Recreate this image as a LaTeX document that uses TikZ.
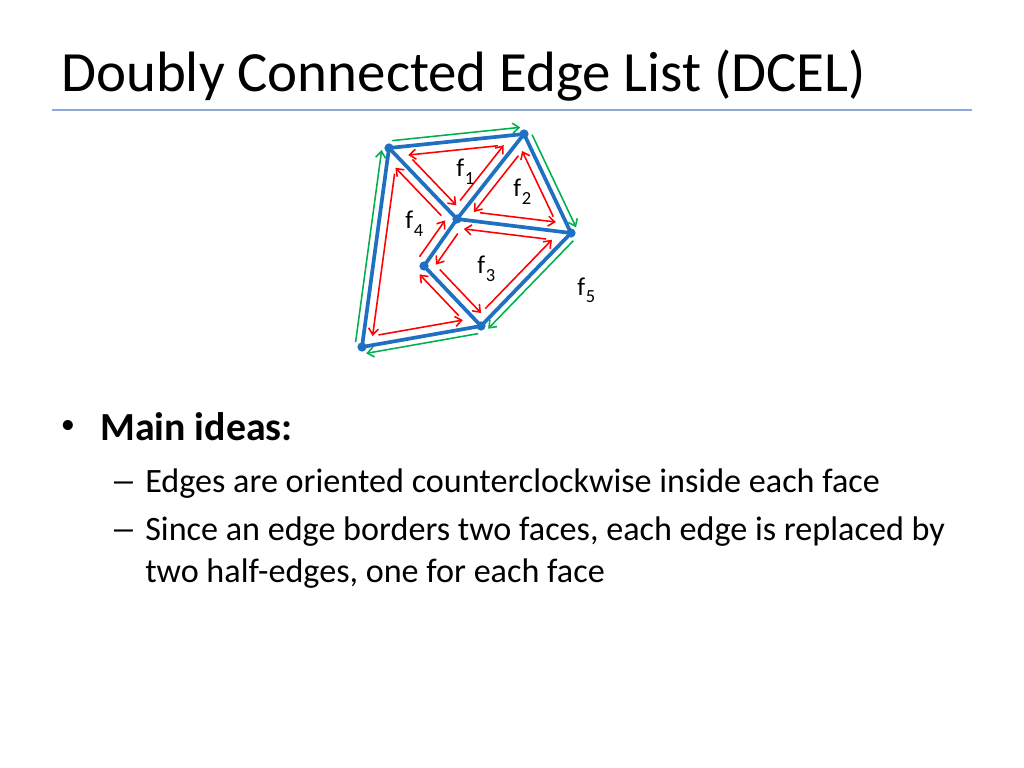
\documentclass[tikz,border=0pt]{standalone}
\usepackage{fontspec}
\setmainfont{Carlito}
\usetikzlibrary{calc,arrows.meta}
\def\px{0.703125pt}
\definecolor{eblue}{HTML}{1F70C1}
\definecolor{hred}{HTML}{FF0000}
\definecolor{hgreen}{HTML}{00B050}
\definecolor{rulec}{RGB}{142,170,219}
\tikzset{
  edgeline/.style={eblue, line width=2.6pt},
  vdot/.style={circle, fill=eblue, inner sep=0pt, minimum size=6.5pt},
  redhe/.style={hred, line width=1.1pt, -{Straight Barb[length=4.5pt,width=7pt]}},
  greenhe/.style={hgreen, line width=1.1pt, -{Straight Barb[length=4.5pt,width=7pt]}},
  flabel/.style={anchor=base west, inner sep=0pt, font=\fontsize{18}{18}\selectfont},
  txt/.style={anchor=base west, inner sep=0pt},
}
\newcommand\hedge[6]{\draw[#5] ($(#1)!#3*\px!(#2)!#6*\px!90:(#2)$) -- ($(#2)!#4*\px!(#1)!#6*\px!-90:(#1)$);}
\newcommand\flab[1]{f\kern0.6pt\raisebox{-5pt}{\fontsize{13}{13}\selectfont #1}}
\newcommand\wdash{\scalebox{1.55}[1]{–}}
\begin{document}
\begin{tikzpicture}[x=0.703125pt, y=-0.703125pt]
\useasboundingbox (0,0) rectangle (1024,768);
% title
\node[txt, font=\fontsize{40}{40}\selectfont] (title) at (61,92) {Doubly Connected Edge List (DCEL)};
\draw[rulec, line width=1pt] (52,110) -- (972,110);
% vertices
\coordinate (A) at (389,148);
\coordinate (B) at (524,134);
\coordinate (C) at (571,233);
\coordinate (D) at (457,219);
\coordinate (E) at (424,266);
\coordinate (F) at (481,326);
\coordinate (G) at (362,347);
% edges
\draw[edgeline] (A) -- (B) -- (C) -- (F) -- (G) -- cycle;
\draw[edgeline] (A) -- (D) -- (B);
\draw[edgeline] (D) -- (C);
\draw[edgeline] (D) -- (E) -- (F);
\foreach \v in {A,B,C,D,E,F,G} \node[vdot] (n\v) at (\v) {};
% half-edges, face f1
\hedge{A}{D}{24.4}{10.4}{redhe}{9}
\hedge{D}{B}{16.4}{21.3}{redhe}{9}
\hedge{B}{A}{27.3}{18.4}{redhe}{9}
% f2
\hedge{D}{C}{22}{16.4}{redhe}{9}
\hedge{C}{B}{22.4}{14.5}{redhe}{9}
\hedge{B}{D}{20.5}{16}{redhe}{9}
% f3
\hedge{D}{E}{11.4}{8}{redhe}{9}
\hedge{E}{F}{13.4}{9.4}{redhe}{9}
\hedge{F}{C}{15.4}{18.1}{redhe}{9}
\hedge{C}{D}{24.1}{8}{redhe}{9}
% f4
\hedge{D}{A}{13.4}{18.7}{redhe}{9}
\hedge{A}{G}{24.7}{12.3}{redhe}{9}
\hedge{G}{F}{18.3}{16.8}{redhe}{9}
\hedge{F}{E}{22.8}{3}{redhe}{9}
\hedge{E}{D}{5}{8}{redhe}{9}
% f5 (outer)
\hedge{A}{B}{4}{3}{greenhe}{7}
\hedge{B}{C}{4}{3}{greenhe}{7}
\hedge{C}{F}{4}{3}{greenhe}{7}
\hedge{F}{G}{4}{3}{greenhe}{7}
\hedge{G}{A}{4}{3}{greenhe}{7}
% face labels
\node[flabel] (f1) at (456,177) {\flab{1}};
\node[flabel] (f2) at (513,197) {\flab{2}};
\node[flabel] (f3) at (477,274) {\flab{3}};
\node[flabel] (f4) at (405,229) {\flab{4}};
\node[flabel] (f5) at (577,295) {\flab{5}};
% body text
\node[inner sep=0pt, font=\fontsize{20}{20}\selectfont] (bul) at (68,427) {•};
\node[txt, font=\fontsize{28}{28}\selectfont\bfseries] (main) at (100,440) {Main ideas:};
\node[txt, font=\fontsize{24}{24}\selectfont] (d1) at (110,492) {\wdash};
\node[txt, font=\fontsize{24}{24}\selectfont] (t1) at (145,492) {Edges are oriented counterclockwise inside each face};
\node[txt, font=\fontsize{24}{24}\selectfont] (d2) at (110,540) {\wdash};
\node[txt, font=\fontsize{24}{24}\selectfont] (t2) at (145,540) {Since an edge borders two faces, each edge is replaced by};
\node[txt, font=\fontsize{24}{24}\selectfont] (t3) at (145,582) {two half-edges, one for each face};
\end{tikzpicture}
\end{document}
